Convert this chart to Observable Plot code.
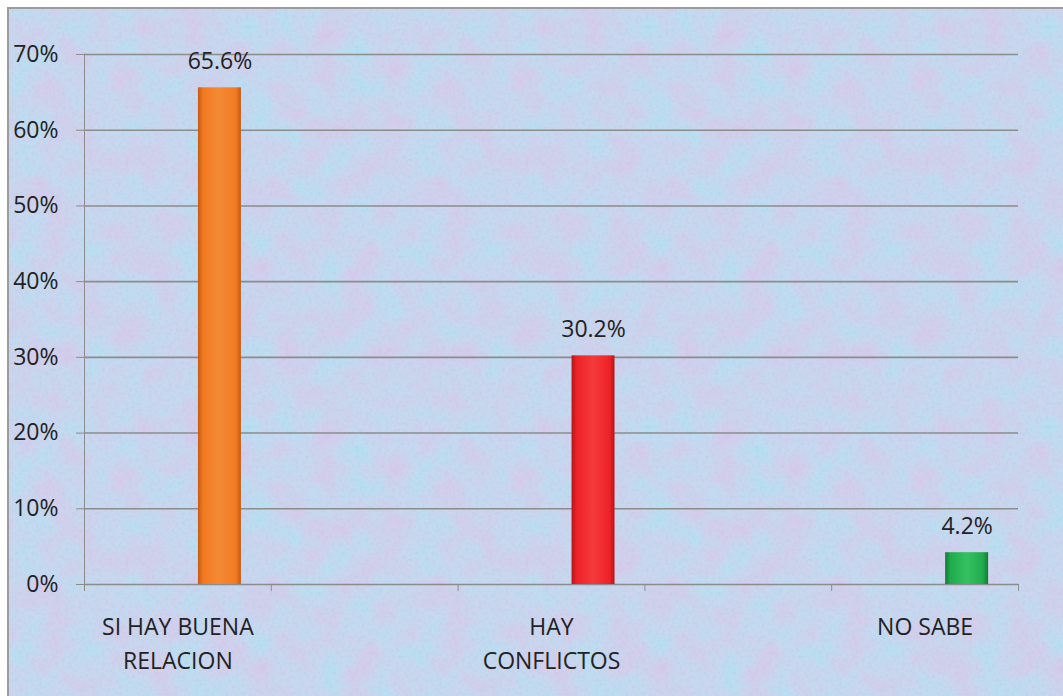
<!DOCTYPE html>
<html>
<head>
<meta charset="utf-8">
<script src="https://cdn.jsdelivr.net/npm/d3@7"></script>
<script src="https://cdn.jsdelivr.net/npm/@observablehq/plot@0.6"></script>
<style>
  html, body { margin: 0; padding: 0; background: #ffffff; overflow: hidden; width: 1063px; height: 696px; }
  #bg { position: absolute; left: 7px; top: 7px; width: 1056px; height: 689px;
        border-left: 2px solid #9c9c9c; border-top: 2px solid #9c9c9c; box-sizing: border-box; }
  #chart { position: absolute; left: 0; top: 0; }
  #chart svg { background: transparent !important; color: #8c8c8c; }
  #chart svg text { fill: #222222; }
</style>
</head>
<body>
<div id="bg"></div>
<div id="chart"></div>
<script>
// ---- data ----
const categories = ["SI HAY BUENA RELACION", "HAY CONFLICTOS", "NO SABE"];
const labelLines = ["SI HAY BUENA\nRELACION", "HAY\nCONFLICTOS", "NO SABE"];
const values = [65.6, 30.2, 4.2];
const yTicks = [0, 10, 20, 30, 40, 50, 60, 70];
const xSlotTicks = [0, 1, 2, 3, 4, 5];
const barColors = ["#f27a21", "#ee2226", "#1faa4b"];

// ---- texture background (decorative) ----
const tex = `<svg xmlns='http://www.w3.org/2000/svg' width='400' height='400'>
<filter id='a' x='0' y='0' width='100%' height='100%'><feTurbulence type='fractalNoise' baseFrequency='0.03' numOctaves='3' seed='7' stitchTiles='stitch'/>
<feColorMatrix type='matrix' values='-1.0 0 0 0 1.25  0.7 0 0 0 0.45  0.25 0 0 0 0.78  0 0 0 0 0.38'/></filter>
<filter id='b' x='0' y='0' width='100%' height='100%'><feTurbulence type='fractalNoise' baseFrequency='0.3' numOctaves='2' seed='2' stitchTiles='stitch'/>
<feColorMatrix type='matrix' values='0 0 0 0 0.5  0 0 0 0 0.58  0 0 0 0 0.82  0 1.8 0 0 -0.8'/></filter>
<rect width='100%' height='100%' fill='#bacbea'/>
<rect width='100%' height='100%' filter='url(#a)'/>
<rect width='100%' height='100%' filter='url(#b)' opacity='0.55'/>
</svg>`;
document.getElementById("bg").style.background =
  "url(\"data:image/svg+xml," + encodeURIComponent(tex) + "\")";

// ---- table ----
const data = categories.map((c, i) => ({category: c, label: labelLines[i], value: values[i], slot: 2 * i}));

const font = "'Open Sans', sans-serif";

const chart = Plot.plot({
  width: 1063,
  height: 696,
  marginLeft: 84,
  marginRight: 45,
  marginTop: 54,
  marginBottom: 112,
  style: {fontFamily: font, fontSize: "23px", background: "transparent", overflow: "visible"},
  x: {type: "linear", domain: [0, 5], ticks: xSlotTicks, tickSize: 7, tickFormat: () => "", label: null, line: true},
  y: {domain: [0, 70], ticks: yTicks, tickSize: 8, tickPadding: 18, tickFormat: d => d + "%", label: null, line: true},
  color: {domain: categories, range: barColors},
  marks: [
    Plot.ruleY(yTicks, {stroke: "#8c8c8c", strokeWidth: 1.6}),
    Plot.rectY(data, {x1: d => d.slot + 0.61, x2: d => d.slot + 0.84, y1: 0, y2: "value", fill: "category"}),
    Plot.text(data, {x: d => d.slot + 0.725, y: "value", text: d => d.value.toFixed(1) + "%", dy: -26, fontSize: 23, fill: "#222222"}),
    Plot.text(data, {x: d => d.slot + 0.5, y: 0, text: "label", dy: 27, lineAnchor: "top", lineHeight: 1.45, fontSize: 23, fill: "#222222"})
  ]
});

// bevel-like gradients on bars
const ns = "http://www.w3.org/2000/svg";
const defs = document.createElementNS(ns, "defs");
const shades = [["#c45a12", "#f58a35", "#f27a21"], ["#b3161a", "#f43a3c", "#ee2226"], ["#137a33", "#35c062", "#1faa4b"]];
shades.forEach((s, i) => {
  const g = document.createElementNS(ns, "linearGradient");
  g.setAttribute("id", "bar" + i);
  g.setAttribute("x1", "0"); g.setAttribute("x2", "1"); g.setAttribute("y1", "0"); g.setAttribute("y2", "0");
  [[0, s[0]], [0.12, s[2]], [0.5, s[1]], [0.88, s[2]], [1, s[0]]].forEach(([o, c]) => {
    const st = document.createElementNS(ns, "stop");
    st.setAttribute("offset", o); st.setAttribute("stop-color", c);
    g.appendChild(st);
  });
  defs.appendChild(g);
});
chart.insertBefore(defs, chart.firstChild);
const rects = chart.querySelectorAll('g[aria-label="rect"] rect');
rects.forEach((r, i) => { r.setAttribute("fill", "url(#bar" + i + ")"); });

document.getElementById("chart").appendChild(chart);
</script>
</body>
</html>
